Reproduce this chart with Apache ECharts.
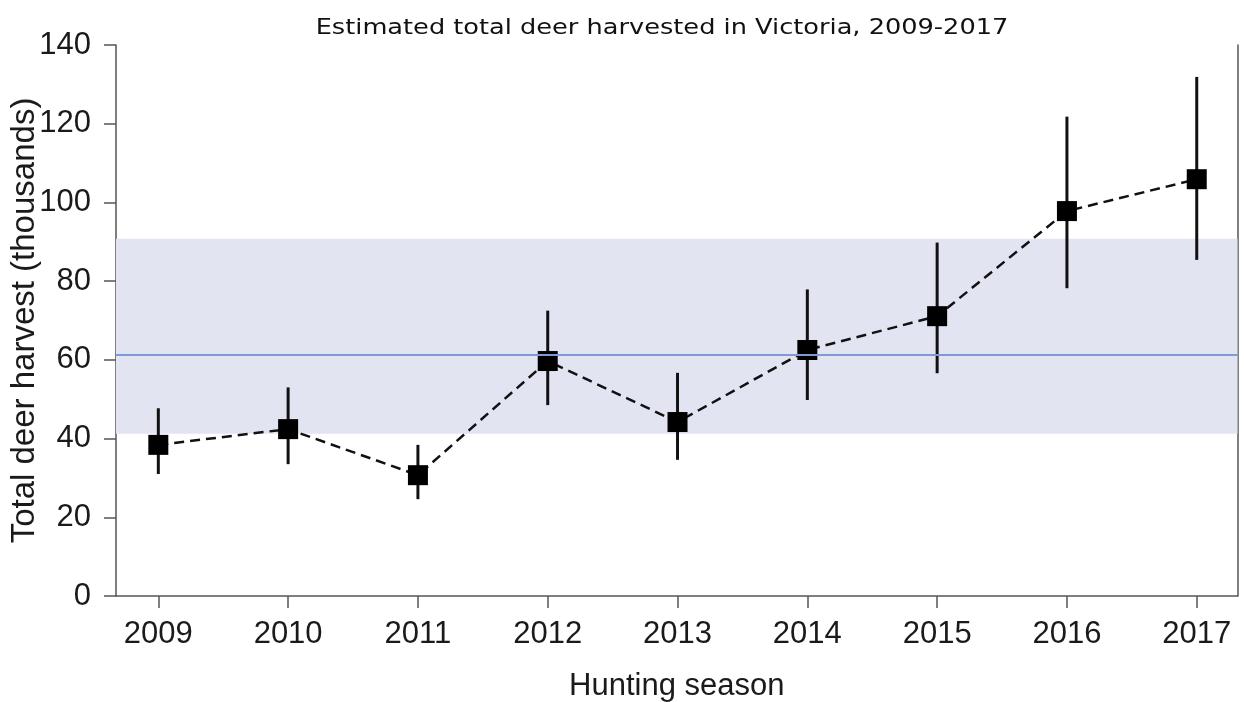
<!DOCTYPE html>
<html>
<head>
<meta charset="utf-8">
<script src="https://cdn.jsdelivr.net/npm/echarts@6/dist/echarts.min.js"></script>
<style>
html,body{margin:0;padding:0;background:#fff;}
#main{width:1244px;height:702px;}
</style>
</head>
<body>
<div id="main"></div>
<script>
const years = [2009, 2010, 2011, 2012, 2013, 2014, 2015, 2016, 2017];
const harvest = [38.4, 42.4, 30.7, 59.7, 44.2, 62.5, 71.1, 97.8, 105.9];
const lower = [31.0, 33.5, 24.6, 48.5, 34.6, 49.8, 56.6, 78.2, 85.4];
const upper = [47.7, 53.0, 38.4, 72.5, 56.7, 77.9, 89.8, 121.8, 131.9];
const meanHarvest = 61.2;
const rangeLow = 41.2;
const rangeHigh = 90.8;
const yTicks = [0, 20, 40, 60, 80, 100, 120, 140];
const titleText = 'Estimated total deer harvested in Victoria, 2009-2017';

const chart = echarts.init(document.getElementById('main'));
const axisColor = '#555';
const textColor = '#1a1a1a';
const font = '"Liberation Sans", Arial, sans-serif';

chart.setOption({
  animation: false,
  backgroundColor: '#fff',
  graphic: [{
    type: 'text', x: 662, y: 28, scaleX: 1.165, z: 10,
    style: {
      text: titleText, fill: '#111',
      font: '22px "DejaVu Sans", sans-serif',
      textAlign: 'center', textVerticalAlign: 'middle'
    }
  }],
  grid: { left: 116, right: 6.5, top: 45, bottom: 106, outerBoundsMode: 'none', containLabel: false },
  xAxis: {
    type: 'value', min: 2008.674, max: 2017.314,
    splitLine: { show: false },
    axisLine: { show: true, lineStyle: { color: axisColor, width: 1.5 } },
    axisTick: { show: true, customValues: years, length: 12, lineStyle: { color: axisColor, width: 1.5 } },
    axisLabel: { customValues: years, margin: 23, fontSize: 31, fontFamily: font, color: textColor, formatter: v => String(Math.round(v)) },
    name: 'Hunting season', nameLocation: 'middle', nameGap: 75, nameMoveOverlap: false,
    nameTextStyle: { fontSize: 31, fontFamily: font, color: textColor }
  },
  yAxis: [{
    type: 'value', min: 0, max: 140, interval: 20,
    splitLine: { show: false },
    axisLine: { show: true, lineStyle: { color: axisColor, width: 1.5 } },
    axisTick: { show: true, length: 12, lineStyle: { color: axisColor, width: 1.5 } },
    axisLabel: { margin: 25, fontSize: 31, fontFamily: font, color: textColor, customValues: yTicks },
    name: 'Total deer harvest (thousands)', nameLocation: 'middle', nameGap: 75, nameMoveOverlap: false,
    nameTextStyle: { fontSize: 33, fontFamily: font, color: textColor }
  }, {
    type: 'value', min: 0, max: 140, position: 'right',
    splitLine: { show: false },
    axisLine: { show: true, lineStyle: { color: axisColor, width: 1.5 } },
    axisTick: { show: false }, axisLabel: { show: false }
  }],
  series: [
    {
      type: 'line', data: [], silent: true,
      markArea: {
        silent: true,
        itemStyle: { color: '#e3e4f2' },
        data: [[{ yAxis: rangeLow }, { yAxis: rangeHigh }]]
      },
      markLine: {
        silent: true, symbol: 'none', label: { show: false },
        lineStyle: { color: '#7d9ad6', width: 2, type: 'solid' },
        data: [{ yAxis: meanHarvest }]
      }
    },
    {
      type: 'custom', silent: true,
      data: years.map((y, i) => [y, lower[i], upper[i]]),
      renderItem: function (params, api) {
        const p1 = api.coord([api.value(0), api.value(1)]);
        const p2 = api.coord([api.value(0), api.value(2)]);
        return {
          type: 'line',
          shape: { x1: p1[0], y1: p1[1], x2: p2[0], y2: p2[1] },
          style: { stroke: '#111', lineWidth: 3 }
        };
      },
      z: 3
    },
    {
      type: 'line',
      data: years.map((y, i) => [y, harvest[i]]),
      symbol: 'rect', symbolSize: 20,
      itemStyle: { color: '#000' },
      lineStyle: { color: '#111', width: 2.5, type: [10, 6] },
      z: 4
    }
  ]
});
</script>
</body>
</html>
